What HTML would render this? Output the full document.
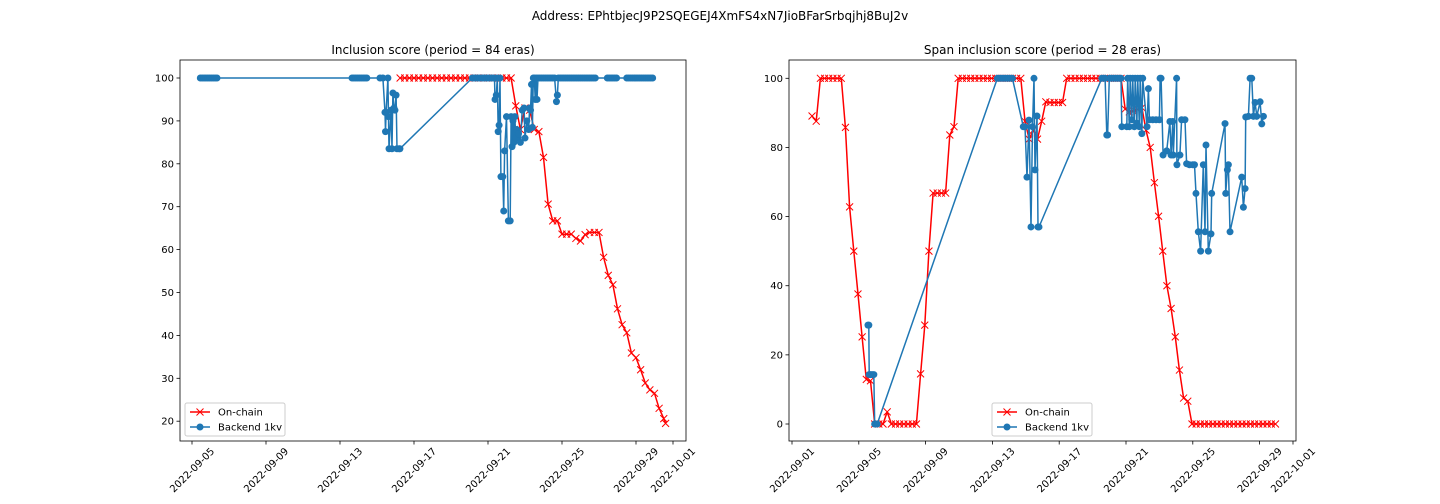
<!DOCTYPE html>
<html><head><meta charset="utf-8"><style>
body{margin:0;background:#fff;}
svg{display:block;font-family:"DejaVu Sans","Liberation Sans",sans-serif;}
</style></head><body>
<svg id="chart" width="1440" height="504" xmlns="http://www.w3.org/2000/svg">
<rect width="1440" height="504" fill="#fff"/>
<text x="720" y="20" text-anchor="middle" font-size="12">Address: EPhtbjecJ9P2SQEGEJ4XmFS4xN7JioBFarSrbqjhj8BuJ2v</text>
</svg>
<script>
// Days are day-of-September 2022 (fractional, 0.25 = 6h era)
const leftYTicks=[20,30,40,50,60,70,80,90,100];
const rightYTicks=[0,20,40,60,80,100];
const leftXTicks=[5,9,13,17,21,25,29,31];
const rightXTicks=[1,5,9,13,17,21,25,29,31];
const xTickLabels={1:"2022-09-01",5:"2022-09-05",9:"2022-09-09",13:"2022-09-13",17:"2022-09-17",21:"2022-09-21",25:"2022-09-25",29:"2022-09-29",31:"2022-10-01"};

const leftChainDays=[16.25,16.5,16.75,17,17.25,17.5,17.75,18,18.25,18.5,18.75,19,19.25,19.5,19.75,20,20.25,20.5,20.75,21,21.25,21.5,21.75,22,22.25,22.5,22.75,23,23.25,23.5,23.75,24,24.25,24.5,24.75,25,25.25,25.5,25.75,26,26.25,26.5,26.75,27,27.25,27.5,27.75,28,28.25,28.5,28.75,29,29.25,29.5,29.75,30,30.25,30.5,30.6];
const leftChainVals=[100,100,100,100,100,100,100,100,100,100,100,100,100,100,100,100,100,100,100,100,100,100,100,100,100,93.5,88,93,92.5,88,87.5,81.5,70.6,66.7,66.7,63.6,63.6,63.6,62.6,62,63.5,64,64,64,58.2,54,51.8,46.2,42.5,40.6,35.9,34.8,32,28.9,27.3,26.5,23,20.6,19.5];

const leftBackDays=[5.45,5.55,5.65,5.75,5.85,5.95,6.05,6.15,6.25,6.35,13.65,13.75,13.85,13.95,14.05,14.15,14.25,14.35,14.45,15.16,15.32,15.43,15.46,15.49,15.59,15.62,15.65,15.76,15.81,15.86,15.92,15.97,16.03,16.08,16.19,16.24,20.15,20.25,20.35,20.45,20.55,20.65,20.75,20.85,20.95,21.05,21.15,21.25,21.35,21.38,21.45,21.5,21.55,21.6,21.65,21.7,21.8,21.85,21.9,22,22.1,22.2,22.25,22.3,22.35,22.4,22.45,22.5,22.55,22.65,22.75,22.85,22.95,23,23.1,23.2,23.25,23.3,23.35,23.4,23.45,23.5,23.55,23.6,23.65,23.7,23.8,23.9,24,24.1,24.2,24.3,24.4,24.5,24.6,24.7,24.75,24.8,24.9,25,25.1,25.2,25.3,25.4,25.5,25.6,25.7,25.8,25.9,26,26.1,26.2,26.3,26.4,26.5,26.6,26.7,26.8,27.45,27.55,27.65,27.75,27.85,27.95,28.5,28.6,28.7,28.8,28.9,29,29.1,29.2,29.3,29.4,29.5,29.6,29.7,29.8,29.9];
const leftBackVals=[100,100,100,100,100,100,100,100,100,100,100,100,100,100,100,100,100,100,100,100,100,92,87.5,92,100,91,83.5,92.5,83.5,96.5,93,92.5,96,83.5,83.5,83.5,100,100,100,100,100,100,100,100,100,100,100,100,100,95,96,100,87.5,89,100,77,77,69,83,91,66.7,66.7,91,84,90,85,91,86,88,87,85,92.5,93,86,90,88,93,92.5,98.5,88.5,100,100,95,100,95,100,100,100,100,100,100,100,100,100,100,94.5,96,100,100,100,100,100,100,100,100,100,100,100,100,100,100,100,100,100,100,100,100,100,100,100,100,100,100,100,100,100,100,100,100,100,100,100,100,100,100,100,100,100,100,100];

const rightChainDays=[2.2,2.45,2.7,2.95,3.2,3.45,3.7,3.95,4.2,4.45,4.7,4.95,5.2,5.45,5.7,5.95,6.2,6.45,6.7,6.95,7.2,7.45,7.7,7.95,8.2,8.45,8.7,8.95,9.2,9.45,9.7,9.95,10.2,10.45,10.7,10.95,11.2,11.45,11.7,11.95,12.2,12.45,12.7,12.95,13.2,13.45,13.7,13.95,14.2,14.45,14.7,14.95,15.2,15.45,15.7,15.95,16.2,16.45,16.7,16.95,17.2,17.45,17.7,17.95,18.2,18.45,18.7,18.95,19.2,19.45,19.7,19.95,20.2,20.45,20.7,20.95,21.2,21.45,21.7,21.95,22.2,22.45,22.7,22.95,23.2,23.45,23.7,23.95,24.2,24.45,24.7,24.95,25.2,25.45,25.7,25.95,26.2,26.45,26.7,26.95,27.2,27.45,27.7,27.95,28.2,28.45,28.7,28.95,29.2,29.45,29.7,29.95];
const rightChainVals=[89.1,87.6,100,100,100,100,100,100,85.8,62.8,50,37.6,25.2,12.9,12.5,0,0,0,3.5,0,0,0,0,0,0,0,14.5,28.6,50,66.8,66.8,66.8,66.8,83.6,86,100,100,100,100,100,100,100,100,100,100,100,100,100,100,100,100,87.6,82.4,85,82.4,87.6,93.2,93,93,93,93,100,100,100,100,100,100,100,100,100,100,100,100,100,100,91.1,90.3,90.5,91,91.5,85,80,69.8,60.1,50,40,33.4,25.2,15.6,7.5,6.6,0,0,0,0,0,0,0,0,0,0,0,0,0,0,0,0,0,0,0,0,0];

const rightBackDays=[5.55,5.6,5.62,5.7,5.8,5.9,5.95,6.0,6.1,13.3,13.4,13.5,13.6,13.7,13.8,13.9,14.0,14.1,14.2,14.85,14.95,15.07,15.19,15.31,15.4,15.49,15.55,15.67,15.73,15.79,19.55,19.65,19.75,19.85,19.9,20.0,20.1,20.2,20.3,20.4,20.5,20.6,20.7,20.75,21.05,21.1,21.2,21.25,21.35,21.4,21.5,21.55,21.65,21.7,21.8,21.85,21.95,22.0,22.26,22.34,22.4,22.6,22.8,23.0,23.04,23.1,23.22,23.44,23.63,23.7,23.8,23.83,24.03,24.05,24.23,24.33,24.53,24.63,24.8,25.0,25.1,25.19,25.33,25.47,25.63,25.73,25.79,25.93,26.09,26.13,26.93,26.97,27.07,27.13,27.23,27.93,28.03,28.13,28.17,28.33,28.43,28.53,28.63,28.73,28.83,29.03,29.13,29.23];
const rightBackVals=[28.6,28.6,14.3,14.3,14.3,14.3,0,0,0,100,100,100,100,100,100,100,100,100,100,86,86,71.4,87.9,57,86,100,73.5,89.1,57,57,100,100,100,83.6,83.6,100,100,100,100,100,100,100,100,86,86,100,86,100,88,100,86,100,87,100,86,100,84,100,86,97,88,88,88,88,100,100,77.8,79,87.5,77.8,87.5,77.8,100,75,77.8,88,88,75.3,75,75,75,66.7,55.6,50,75,55.6,80.7,50,55,66.7,86.9,66.7,73.5,75,55.6,71.4,62.7,68.1,88.8,89,100,100,89,93,89,93.2,86.8,89];

const NS="http://www.w3.org/2000/svg";
const svg=document.getElementById('chart');
function mk(tag,attrs,parent){const e=document.createElementNS(NS,tag);for(const k in attrs)e.setAttribute(k,attrs[k]);(parent||svg).appendChild(e);return e;}

function drawPanel(cfg){
  const g=mk('g',{});
  
  
  const xs=d=>cfg.x0px+(d-cfg.x0day)*cfg.pxPerDay;
  const ys=v=>cfg.yTopPx+(cfg.yTopVal-v)*cfg.pxPerUnit;
  const t=mk('text',{x:(cfg.L+cfg.R)/2,y:54,'text-anchor':'middle','font-size':12},g);
  t.textContent=cfg.title;
  
  
  cfg.yTicks.forEach(v=>{
    const y=ys(v);
    const tk=mk('line',{x1:cfg.L-3.5,x2:cfg.L,y1:y,y2:y,stroke:'#000','stroke-width':0.8},g);
    
    
    const lb=mk('text',{x:cfg.L-6,y:y+3.5,'text-anchor':'end','font-size':10},g);
    lb.textContent=v;
    
    
  });
  cfg.xTicks.forEach(d=>{
    const x=xs(d);
    const tk=mk('line',{x1:x,x2:x,y1:cfg.B,y2:cfg.B+3.5,stroke:'#000','stroke-width':0.8},g);
    
    
    const cy=cfg.B+29;
    const lb=mk('text',{x:x,y:cy+3.5,'text-anchor':'middle','font-size':10,transform:`rotate(-45 ${x} ${cy})`},g);
    lb.textContent=xTickLabels[d];
    
    
  });
  function series(days,vals,color,marker,name){
    const sg=mk('g',{},g);
    
    
    const pts=days.map((d,i)=>xs(d).toFixed(1)+','+ys(vals[i]).toFixed(1)).join(' ');
    mk('polyline',{points:pts,fill:'none',stroke:color,'stroke-width':1.5,'stroke-linejoin':'round'},sg);
    days.forEach((d,i)=>{
      const x=xs(d),y=ys(vals[i]);
      let m;
      if(marker==='x'){m=mk('path',{d:`M${x-3.5},${y-3.5}L${x+3.5},${y+3.5}M${x-3.5},${y+3.5}L${x+3.5},${y-3.5}`,stroke:color,'stroke-width':1},sg);}
      else{m=mk('circle',{cx:x,cy:y,r:3.5,fill:color},sg);}
      
      
    });
  }
  series(cfg.chainDays,cfg.chainVals,'#ff0000','x','on-chain-series');
  series(cfg.backDays,cfg.backVals,'#1f77b4','o','backend-1kv-series');
  const fr=mk('rect',{x:cfg.L,y:cfg.T,width:cfg.R-cfg.L,height:cfg.B-cfg.T,fill:'none',stroke:'#000','stroke-width':0.8},g);
  
  
  const lg=mk('g',{},g);
  
  
  const lx=cfg.legX,ly=403;
  mk('rect',{x:lx,y:ly,width:100,height:33,rx:2,fill:'#fff',stroke:'#ccc','stroke-width':1},lg);
  mk('line',{x1:lx+5,x2:lx+25,y1:ly+9,y2:ly+9,stroke:'#ff0000','stroke-width':1.5},lg);
  mk('path',{d:`M${lx+11.5},${ly+5.5}L${lx+18.5},${ly+12.5}M${lx+11.5},${ly+12.5}L${lx+18.5},${ly+5.5}`,stroke:'#ff0000','stroke-width':1},lg);
  const t1=mk('text',{x:lx+33,y:ly+12.5,'font-size':10},lg);t1.textContent='On-chain';
  
  
  mk('line',{x1:lx+5,x2:lx+25,y1:ly+24,y2:ly+24,stroke:'#1f77b4','stroke-width':1.5},lg);
  mk('circle',{cx:lx+15,cy:ly+24,r:3.5,fill:'#1f77b4'},lg);
  const t2=mk('text',{x:lx+33,y:ly+27.5,'font-size':10},lg);t2.textContent='Backend 1kv';
  
  
}

drawPanel({name:'inclusion-score-panel',title:'Inclusion score (period = 84 eras)',L:180,R:686,T:60,B:441,
  x0px:192,x0day:5,pxPerDay:18.5,yTopPx:78,yTopVal:100,pxPerUnit:4.29,
  yTicks:leftYTicks,xTicks:leftXTicks,chainDays:leftChainDays,chainVals:leftChainVals,backDays:leftBackDays,backVals:leftBackVals,legX:185});
drawPanel({name:'span-inclusion-score-panel',title:'Span inclusion score (period = 28 eras)',L:789,R:1296,T:60,B:441,
  x0px:792,x0day:1,pxPerDay:16.7,yTopPx:78.3,yTopVal:100,pxPerUnit:3.457,
  yTicks:rightYTicks,xTicks:rightXTicks,chainDays:rightChainDays,chainVals:rightChainVals,backDays:rightBackDays,backVals:rightBackVals,legX:992});
</script>
</body></html>
